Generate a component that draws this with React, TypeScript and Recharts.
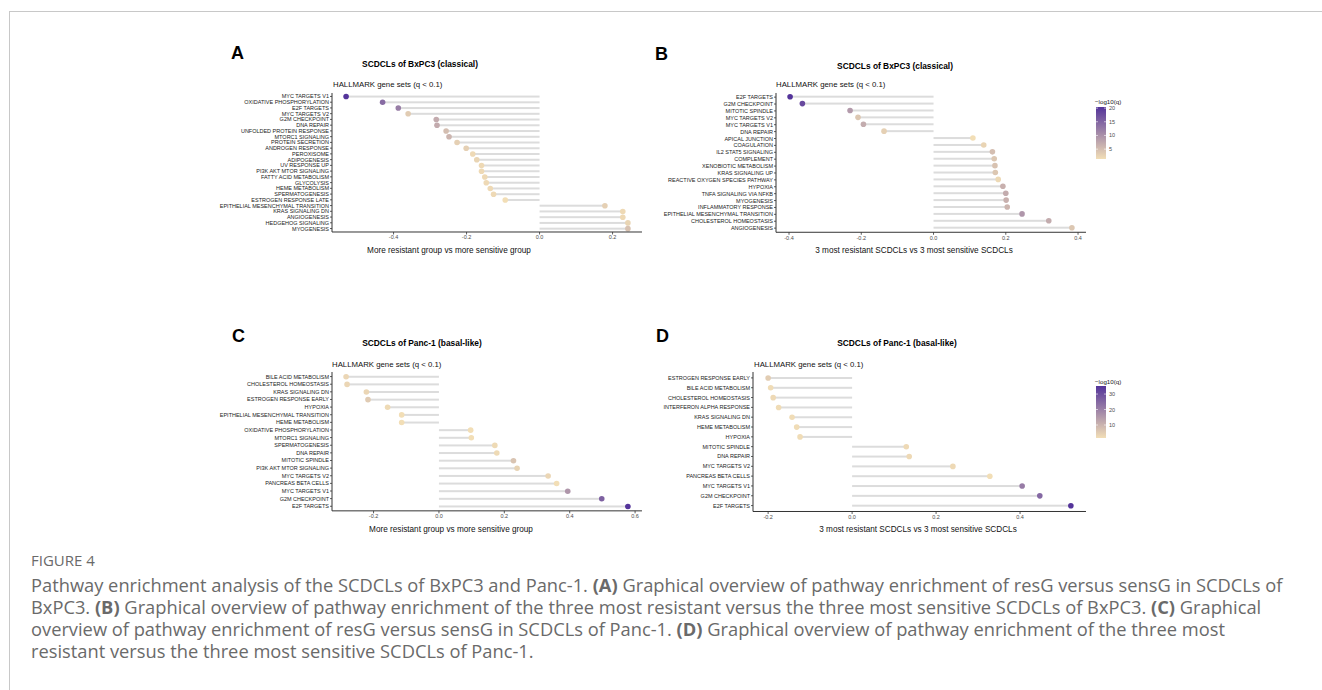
import React from 'react';
import { BarChart, Bar, XAxis, YAxis } from 'recharts';

const FONT = '"Liberation Sans", Arial, Helvetica, sans-serif';
const CAPFONT = '"Open Sans", "Noto Sans", sans-serif';

// ---------- Panel A ----------
const aNames = [
  'MYC TARGETS V1', 'OXIDATIVE PHOSPHORYLATION', 'E2F TARGETS', 'MYC TARGETS V2', 'G2M CHECKPOINT',
  'DNA REPAIR', 'UNFOLDED PROTEIN RESPONSE', 'MTORC1 SIGNALING', 'PROTEIN SECRETION', 'ANDROGEN RESPONSE',
  'PEROXISOME', 'ADIPOGENESIS', 'UV RESPONSE UP', 'PI3K AKT MTOR SIGNALING', 'FATTY ACID METABOLISM',
  'GLYCOLYSIS', 'HEME METABOLISM', 'SPERMATOGENESIS', 'ESTROGEN RESPONSE LATE',
  'EPITHELIAL MESENCHYMAL TRANSITION', 'KRAS SIGNALING DN', 'ANGIOGENESIS', 'HEDGEHOG SIGNALING', 'MYOGENESIS',
];
const aValues = [
  -0.53, -0.43, -0.387, -0.36, -0.283, -0.281, -0.256, -0.248, -0.226, -0.201, -0.183, -0.172,
  -0.159, -0.159, -0.15, -0.146, -0.135, -0.126, -0.094, 0.179, 0.228, 0.228, 0.242, 0.242,
];
const aLogQ = [20, 14, 12, 3.5, 7, 7, 5, 6, 3, 3, 2, 2.5, 2, 2, 2, 2, 2, 2, 1.5, 3, 2, 2, 2.5, 4.5];
const aTicks = [-0.4, -0.2, 0.0, 0.2];

// ---------- Panel B ----------
const bNames = [
  'E2F TARGETS', 'G2M CHECKPOINT', 'MITOTIC SPINDLE', 'MYC TARGETS V2', 'MYC TARGETS V1', 'DNA REPAIR',
  'APICAL JUNCTION', 'COAGULATION', 'IL2 STAT5 SIGNALING', 'COMPLEMENT', 'XENOBIOTIC METABOLISM',
  'KRAS SIGNALING UP', 'REACTIVE OXYGEN SPECIES PATHWAY', 'HYPOXIA', 'TNFA SIGNALING VIA NFKB', 'MYOGENESIS',
  'INFLAMMATORY RESPONSE', 'EPITHELIAL MESENCHYMAL TRANSITION', 'CHOLESTEROL HOMEOSTASIS', 'ANGIOGENESIS',
];
const bValues = [
  -0.397, -0.363, -0.231, -0.209, -0.194, -0.137, 0.109, 0.139, 0.163, 0.168, 0.17, 0.171, 0.179,
  0.192, 0.2, 0.201, 0.204, 0.245, 0.319, 0.383,
];
const bLogQ = [20.4, 18, 9, 4, 7, 3, 1.4, 2.5, 5, 4, 4.5, 4, 2, 6.5, 7, 6.5, 6, 9.5, 7, 4];
const bTicks = [-0.4, -0.2, 0.0, 0.2, 0.4];
const bLegendTicks = [5, 10, 15, 20];

// ---------- Panel C ----------
const cNames = [
  'BILE ACID METABOLISM', 'CHOLESTEROL HOMEOSTASIS', 'KRAS SIGNALING DN', 'ESTROGEN RESPONSE EARLY', 'HYPOXIA',
  'EPITHELIAL MESENCHYMAL TRANSITION', 'HEME METABOLISM', 'OXIDATIVE PHOSPHORYLATION', 'MTORC1 SIGNALING',
  'SPERMATOGENESIS', 'DNA REPAIR', 'MITOTIC SPINDLE', 'PI3K AKT MTOR SIGNALING', 'MYC TARGETS V2',
  'PANCREAS BETA CELLS', 'MYC TARGETS V1', 'G2M CHECKPOINT', 'E2F TARGETS',
];
const cValues = [
  -0.284, -0.281, -0.222, -0.217, -0.157, -0.114, -0.114, 0.097, 0.099, 0.171, 0.177, 0.228, 0.239,
  0.334, 0.36, 0.394, 0.498, 0.578,
];
const cLogQ = [2.5, 2.5, 2.5, 4, 2, 1.5, 1.5, 1.5, 1.5, 2, 2, 5, 3, 2.5, 1.5, 11, 18, 24];
const cTicks = [-0.2, 0.0, 0.2, 0.4, 0.6];

// ---------- Panel D ----------
const dNames = [
  'ESTROGEN RESPONSE EARLY', 'BILE ACID METABOLISM', 'CHOLESTEROL HOMEOSTASIS', 'INTERFERON ALPHA RESPONSE',
  'KRAS SIGNALING DN', 'HEME METABOLISM', 'HYPOXIA', 'MITOTIC SPINDLE', 'DNA REPAIR', 'MYC TARGETS V2',
  'PANCREAS BETA CELLS', 'MYC TARGETS V1', 'G2M CHECKPOINT', 'E2F TARGETS',
];
const dValues = [
  -0.2, -0.194, -0.188, -0.175, -0.143, -0.132, -0.124, 0.129, 0.136, 0.24, 0.328, 0.405, 0.447, 0.521,
];
const dLogQ = [5, 2, 2.5, 2, 2, 2, 2, 2.5, 2.5, 2.5, 1.6, 21, 25, 35.2];
const dTicks = [-0.2, 0.0, 0.2, 0.4];
const dLegendTicks = [10, 20, 30];

const LOW = [242, 222, 182];
const HIGH = [84, 52, 154];

function mix(t: number) {
  const c = LOW.map((l, i) => Math.round(l + (HIGH[i] - l) * t));
  return `rgb(${c[0]},${c[1]},${c[2]})`;
}
function colorFor(v: number, min: number, max: number) {
  const t = Math.max(0, Math.min(1, (v - min) / (max - min)));
  return mix(t);
}

function Lollipop(props: any) {
  const { x, y, width, height, payload, cmin, cmax } = props;
  const left = Math.min(x, x + width);
  const w = Math.abs(width);
  const end = payload.value < 0 ? left : left + w;
  const cy = y + height / 2;
  return (
    <g>
      <rect x={left} y={cy - 1} width={w} height={2} fill="#DCDCDC" />
      <circle cx={end} cy={cy} r={2.8} fill={colorFor(payload.logq, cmin, cmax)} />
    </g>
  );
}

function YTick(props: any) {
  const { x, y, payload } = props;
  return (
    <text x={x} y={y} textAnchor="end" dominantBaseline="central" fontSize={5.5} fill="#222" fontFamily={FONT}>
      {payload.value}
    </text>
  );
}

type PanelProps = {
  names: string[];
  values: number[];
  logq: number[];
  ticks: number[];
  plotLeft: number;
  plotRight: number;
  firstRow: number;
  lastRow: number;
};

function Panel({ names, values, logq, ticks, plotLeft, plotRight, firstRow, lastRow }: PanelProps) {
  const n = names.length;
  const s = (lastRow - firstRow) / (n - 1);
  const plotTop = firstRow - 0.6 * s;
  const plotBottom = lastRow + 0.6 * s;
  const chartLeft = plotLeft - 135;
  const chartTop = plotTop - 4;
  const xAxisH = 20;
  const width = plotRight - chartLeft;
  const height = plotBottom - chartTop + xAxisH;
  const data = names.map((name, i) => ({ name, value: values[i], logq: logq[i] }));
  const vmin = Math.min(...values);
  const vmax = Math.max(...values);
  const ex = (vmax - vmin) * 0.05;
  const domain = [vmin - ex, vmax + ex];
  const cmin = Math.min(...logq);
  const cmax = Math.max(...logq);
  return (
    <div style={{ position: 'absolute', left: chartLeft, top: chartTop }}>
      <BarChart
        width={width}
        height={height}
        data={data}
        layout="vertical"
        margin={{ top: plotTop - chartTop, right: 0, bottom: 0, left: 0 }}
      >
        <XAxis
          type="number"
          domain={domain}
          allowDataOverflow
          ticks={ticks}
          height={xAxisH}
          tickFormatter={(v: number) => v.toFixed(1)}
          tick={{ fontSize: 5.5, fill: '#4d4d4d', fontFamily: FONT }}
          tickSize={2.5}
          tickMargin={1}
          axisLine={{ stroke: '#333', strokeWidth: 1 }}
          tickLine={{ stroke: '#333', strokeWidth: 0.8 }}
        />
        <YAxis
          type="category"
          dataKey="name"
          width={135}
          interval={0}
          padding={{ top: 0.1 * s, bottom: 0.1 * s }}
          tick={<YTick />}
          tickSize={2}
          tickMargin={1}
          axisLine={{ stroke: '#333', strokeWidth: 1 }}
          tickLine={{ stroke: '#333', strokeWidth: 0.8 }}
        />
        <Bar
          dataKey="value"
          barSize={2}
          isAnimationActive={false}
          shape={(p: any) => <Lollipop {...p} cmin={cmin} cmax={cmax} />}
        />
      </BarChart>
    </div>
  );
}

function ColorLegend({ x, yTop, yBottom, titleY, min, max, ticks, id }: any) {
  const yOf = (v: number) => yBottom - ((v - min) / (max - min)) * (yBottom - yTop);
  return (
    <g>
      <defs>
        <linearGradient id={id} x1="0" y1="1" x2="0" y2="0">
          {[0, 0.25, 0.5, 0.75, 1].map((t) => (
            <stop key={t} offset={t} stopColor={mix(t)} />
          ))}
        </linearGradient>
      </defs>
      <text x={x - 1} y={titleY} fontSize={6.2} fontFamily={FONT} fill="#222" dominantBaseline="central">
        −log10(q)
      </text>
      <rect x={x} y={yTop} width={10} height={yBottom - yTop} fill={`url(#${id})`} />
      {ticks.map((t: number) => (
        <g key={t}>
          <line x1={x} x2={x + 2} y1={yOf(t)} y2={yOf(t)} stroke="#fff" strokeWidth={0.6} />
          <line x1={x + 8} x2={x + 10} y1={yOf(t)} y2={yOf(t)} stroke="#fff" strokeWidth={0.6} />
          <text x={x + 13} y={yOf(t)} fontSize={5.5} fontFamily={FONT} fill="#4d4d4d" dominantBaseline="central">
            {t}
          </text>
        </g>
      ))}
    </g>
  );
}

const captionLines: React.ReactNode[] = [
  <>Pathway enrichment analysis of the SCDCLs of BxPC3 and Panc-1. <b>(A)</b> Graphical overview of pathway enrichment of resG versus sensG in SCDCLs of</>,
  <>BxPC3. <b>(B)</b> Graphical overview of pathway enrichment of the three most resistant versus the three most sensitive SCDCLs of BxPC3. <b>(C)</b> Graphical</>,
  <>overview of pathway enrichment of resG versus sensG in SCDCLs of Panc-1. <b>(D)</b> Graphical overview of pathway enrichment of the three most</>,
  <>resistant versus the three most sensitive SCDCLs of Panc-1.</>,
];

export default function App() {
  const texts = [
    { letter: 'A', lx: 231, ly: 59, title: 'SCDCLs of BxPC3 (classical)', tx: 420, ty: 64, sx: 333, sy: 84, xl: 'More resistant group vs more sensitive group', xx: 449, xy: 250 },
    { letter: 'B', lx: 655, ly: 60, title: 'SCDCLs of BxPC3 (classical)', tx: 895, ty: 66, sx: 776, sy: 84.5, xl: '3 most resistant SCDCLs vs 3 most sensitive SCDCLs', xx: 914, xy: 250 },
    { letter: 'C', lx: 232, ly: 342, title: 'SCDCLs of Panc-1 (basal-like)', tx: 422, ty: 343, sx: 332, sy: 364, xl: 'More resistant group vs more sensitive group', xx: 451, xy: 529 },
    { letter: 'D', lx: 656, ly: 342, title: 'SCDCLs of Panc-1 (basal-like)', tx: 897, ty: 343, sx: 754, sy: 364, xl: '3 most resistant SCDCLs vs 3 most sensitive SCDCLs', xx: 918, xy: 529 },
  ];
  return (
    <div style={{ position: 'fixed', left: 0, top: 0, width: 1322, height: 690, background: '#fff', overflow: 'hidden' }}>
      <div style={{ position: 'absolute', left: 9, top: 11, width: 1400, height: 800, borderLeft: '1px solid #c8c8c8', borderTop: '1px solid #c8c8c8' }} />
      <Panel names={aNames} values={aValues} logq={aLogQ} ticks={aTicks} plotLeft={332} plotRight={642} firstRow={96.2} lastRow={228.3} />
      <Panel names={bNames} values={bValues} logq={bLogQ} ticks={bTicks} plotLeft={776} plotRight={1086} firstRow={96.7} lastRow={227.7} />
      <Panel names={cNames} values={cValues} logq={cLogQ} ticks={cTicks} plotLeft={332} plotRight={642} firstRow={377} lastRow={506.7} />
      <Panel names={dNames} values={dValues} logq={dLogQ} ticks={dTicks} plotLeft={753} plotRight={1086} firstRow={378} lastRow={505.7} />
      <svg width={1322} height={690} style={{ position: 'absolute', left: 0, top: 0, pointerEvents: 'none' }}>
        {texts.map((t) => (
          <g key={t.letter}>
            <text x={t.lx} y={t.ly} fontSize={18} fontWeight="bold" fontFamily={FONT} fill="#000">{t.letter}</text>
            <text x={t.tx} y={t.ty} fontSize={8.4} fontWeight="bold" fontFamily={FONT} fill="#000" textAnchor="middle" dominantBaseline="central">{t.title}</text>
            <text x={t.sx} y={t.sy} fontSize={7.8} fontFamily={FONT} fill="#111" dominantBaseline="central">HALLMARK gene sets (q &lt; 0.1)</text>
            <text x={t.xx} y={t.xy} fontSize={8.2} fontFamily={FONT} fill="#111" textAnchor="middle" dominantBaseline="central">{t.xl}</text>
          </g>
        ))}
        <ColorLegend id="gB" x={1096} yTop={107} yBottom={159} titleY={101} min={Math.min(...bLogQ)} max={Math.max(...bLogQ)} ticks={bLegendTicks} />
        <ColorLegend id="gD" x={1096} yTop={386} yBottom={438} titleY={381} min={Math.min(...dLogQ)} max={Math.max(...dLogQ)} ticks={dLegendTicks} />
      </svg>
      <div style={{ position: 'absolute', left: 31, top: 550, fontFamily: CAPFONT, fontSize: 15, color: '#6a6a6a', whiteSpace: 'nowrap' }}>FIGURE 4</div>
      {captionLines.map((line, i) => (
        <div key={i} style={{ position: 'absolute', left: 31, top: 574 + i * 22, fontFamily: CAPFONT, fontSize: 18.3, lineHeight: '22px', color: '#6a6a6a', whiteSpace: 'nowrap' }}>
          {line}
        </div>
      ))}
    </div>
  );
}
